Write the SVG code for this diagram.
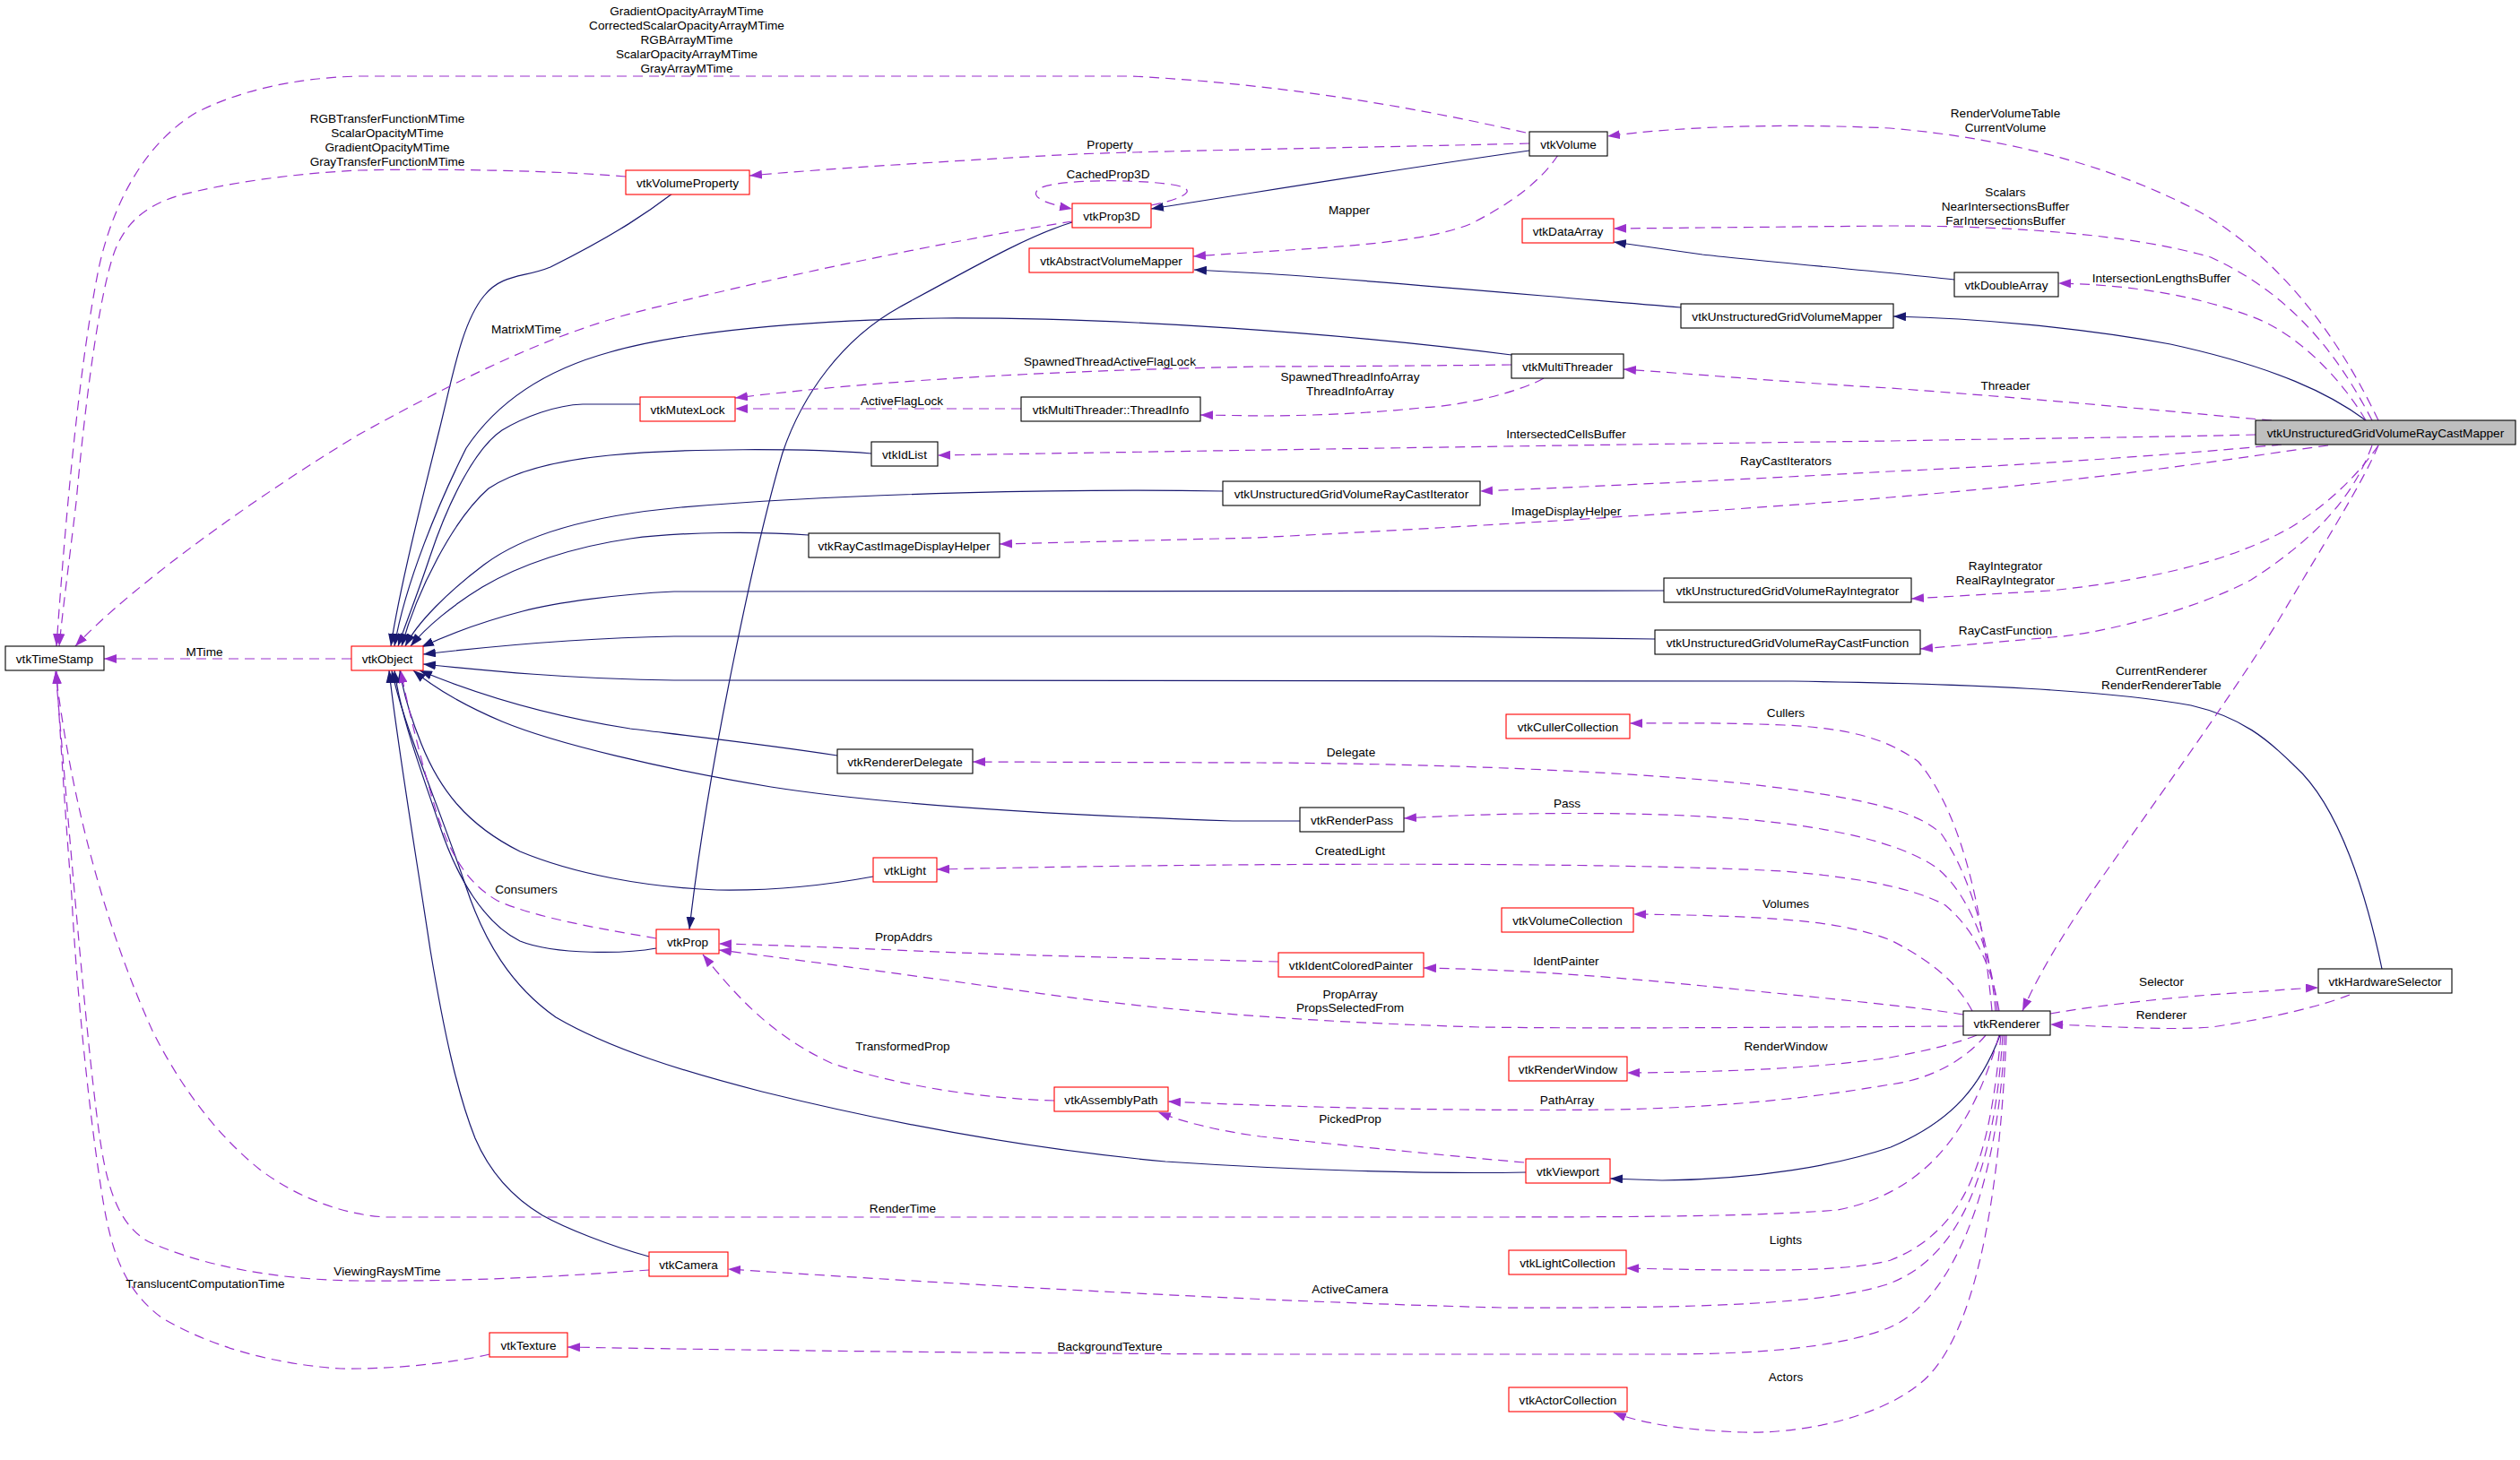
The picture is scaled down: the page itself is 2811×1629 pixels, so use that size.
<svg xmlns="http://www.w3.org/2000/svg" width="2811" height="1629" viewBox="0 0 2811 1629">
<style>
text{font-family:"Liberation Sans",Arial,sans-serif;font-size:13.6px;fill:#000;text-anchor:middle}
.n rect{fill:#fff;stroke:#000;stroke-width:1.1}
.n.r rect{stroke:#ff0000}
.n.g rect{fill:#bfbfbf}
.inh{fill:none;stroke:#191970;stroke-width:1.2;marker-end:url(#an)}
.use{fill:none;stroke:#9a32cd;stroke-width:1.2;stroke-dasharray:11,7;marker-end:url(#ap)}
</style>
<defs>
<marker id="an" viewBox="0 0 14 10" refX="14" refY="5" markerWidth="14" markerHeight="10" markerUnits="userSpaceOnUse" orient="auto"><path d="M0,0 L14,5 L0,10 z" fill="#191970"/></marker>
<marker id="ap" viewBox="0 0 14 10" refX="14" refY="5" markerWidth="14" markerHeight="10" markerUnits="userSpaceOnUse" orient="auto"><path d="M0,0 L14,5 L0,10 z" fill="#9a32cd"/></marker>
</defs>
<rect x="0" y="0" width="2811" height="1629" fill="#fff"/>
<g id="connectors">
<!-- inheritance -->
<path class="inh" d="M1706,168 C1550,190 1400,215 1284,233"/>
<path class="inh" d="M1196,248 C1150,262 1100,290 1003,343 C940,378 895,440 873,505 C845,600 790,850 769,1037"/>
<path class="inh" d="M750,216 C725,235 690,260 614,298 C585,310 560,305 540,330 C515,360 505,420 490,480 C470,560 445,660 436,721"/>
<path class="inh" d="M1686,396 C1500,372 1250,354 1050,355 C900,357 760,370 680,393 C600,415 550,455 520,500 C490,560 452,650 440,721"/>
<path class="inh" d="M714,451 L650,451 C620,452 585,465 560,480 C530,500 500,560 480,620 C465,665 451,700 444,721"/>
<path class="inh" d="M972,506 C900,500 760,500 680,508 C620,514 575,525 545,545 C505,580 465,660 448,721"/>
<path class="inh" d="M1364,548 C1200,545 950,550 760,566 C650,576 580,600 540,630 C500,660 465,695 452,721"/>
<path class="inh" d="M902,597 C850,593 760,593 703,601 C640,610 580,630 538,655 C505,675 475,700 458,721"/>
<path class="inh" d="M1856,659 L752,660 C690,663 620,672 583,682 C540,693 500,708 470,722"/>
<path class="inh" d="M1846,713 L1594,710 L752,710 C640,712 540,722 472,730"/>
<path class="inh" d="M2657,1081 C2640,1000 2610,900 2560,855 C2530,825 2500,800 2444,787 C2350,770 2200,763 2000,760 L752,759 C640,758 540,748 472,741"/>
<path class="inh" d="M934,843 C850,830 760,820 703,813 C620,800 540,778 468,748"/>
<path class="inh" d="M1450,916 L1375,916 C1200,910 1000,900 860,878 C740,858 620,830 560,805 C520,788 485,768 461,748"/>
<path class="inh" d="M974,978 C920,988 860,994 800,993 C720,990 640,975 580,950 C520,920 490,880 470,830 C458,800 450,775 446,748"/>
<path class="inh" d="M732,1058 C700,1064 620,1066 580,1050 C540,1030 510,980 490,920 C470,860 447,800 440,748"/>
<path class="inh" d="M724,1402 C680,1390 630,1370 605,1356 C570,1335 545,1305 530,1270 C510,1220 495,1150 480,1060 C465,960 443,830 434,748"/>
<path class="inh" d="M1702,1308 C1600,1310 1450,1306 1300,1296 C1150,1282 1000,1255 850,1218 C760,1195 680,1170 620,1135 C570,1100 540,1050 520,990 C490,900 450,810 437,748"/>
<path class="inh" d="M2639,469 C2600,440 2540,410 2421,384 C2320,365 2200,355 2112,353"/>
<path class="inh" d="M1875,343 C1750,333 1500,310 1406,305 L1332,301"/>
<path class="inh" d="M2180,312 C2120,305 1950,290 1899,284 L1800,270"/>
<path class="inh" d="M2231,1155 C2210,1210 2180,1250 2109,1280 C2050,1300 1960,1316 1854,1317 L1796,1315"/>
<!-- usage -->
<path class="use" d="M1702,148 C1600,125 1450,95 1263,85 L400,85 C330,87 270,100 220,125 C160,160 125,230 110,300 C90,400 75,550 63,721"/>
<path class="use" d="M698,197 C620,190 480,188 400,190 C320,194 250,205 200,218 C160,230 140,250 128,280 C110,330 95,450 85,560 C78,620 70,680 66,721"/>
<path class="use" d="M1196,247 C1100,262 900,300 703,350 C600,378 500,430 400,485 C300,545 150,650 84,721"/>
<path class="use" d="M392,735 L116,735"/>
<path class="use" d="M2230,1155 C2200,1260 2150,1330 2050,1350 C1950,1358 1800,1358 1600,1358 L430,1358 C380,1355 330,1335 290,1305 C240,1265 200,1210 170,1150 C120,1040 80,900 62,749"/>
<path class="use" d="M724,1417 C650,1422 550,1430 400,1429 C300,1428 220,1410 165,1385 C130,1365 118,1320 110,1260 C95,1150 75,900 62,749"/>
<path class="use" d="M546,1511 C500,1522 430,1528 380,1527 C300,1522 230,1500 180,1470 C140,1440 125,1400 115,1340 C100,1250 85,1100 80,1000 C72,900 66,800 63,749"/>
<path class="use" d="M1706,160 C1600,163 1300,168 1200,172 C1050,180 900,190 836,196"/>
<path class="use" d="M1738,173 C1720,200 1690,225 1640,250 C1590,270 1500,275 1406,281 L1331,286"/>
<path class="use" d="M1284,229 C1320,222 1345,210 1300,205 C1260,200 1180,200 1160,210 C1145,220 1170,228 1196,233"/>
<path class="use" d="M2653,469 C2620,400 2560,300 2460,240 C2370,190 2250,155 2108,143 C2000,138 1880,140 1793,152"/>
<path class="use" d="M2646,469 C2610,400 2560,330 2466,287 C2380,262 2250,252 2108,252 L1800,255"/>
<path class="use" d="M2639,469 C2610,420 2560,370 2511,353 C2450,330 2380,318 2296,316"/>
<path class="use" d="M2534,469 C2450,462 2300,447 2108,433 C2000,427 1900,418 1811,412"/>
<path class="use" d="M2516,485 C2400,488 2200,490 2108,492 C1800,496 1400,502 1046,508"/>
<path class="use" d="M2545,496 C2400,510 2200,522 2108,526 C2000,532 1800,542 1651,548"/>
<path class="use" d="M2597,497 C2500,510 2350,535 2108,555 C1900,572 1600,590 1400,600 L1115,607"/>
<path class="use" d="M2653,497 C2630,530 2600,560 2556,588 C2500,620 2420,645 2287,659 L2132,668"/>
<path class="use" d="M2646,497 C2630,540 2600,590 2511,647 C2450,680 2350,705 2300,710 L2142,724"/>
<path class="use" d="M2653,497 C2635,540 2590,610 2540,695 C2480,790 2400,900 2330,1000 C2300,1045 2275,1085 2256,1128"/>
<path class="use" d="M1686,407 C1600,408 1450,409 1406,409 C1200,413 1000,422 820,444"/>
<path class="use" d="M1722,422 C1700,435 1640,452 1585,455 C1520,462 1450,464 1406,464 L1339,463"/>
<path class="use" d="M1139,456 L820,456"/>
<path class="use" d="M2222,1128 C2212,1020 2190,910 2140,850 C2100,820 2050,812 1990,809 C1920,806 1860,807 1818,807"/>
<path class="use" d="M2226,1128 C2220,1060 2200,980 2166,931 C2140,905 2080,890 1944,874 C1800,860 1600,852 1406,851 L1085,850"/>
<path class="use" d="M2228,1128 C2222,1070 2200,1000 2160,968 C2120,940 2040,922 1944,914 C1850,906 1700,905 1566,913"/>
<path class="use" d="M2230,1128 C2222,1080 2205,1040 2170,1010 C2130,988 2060,978 1989,972 C1800,962 1400,962 1045,970"/>
<path class="use" d="M2200,1128 C2185,1100 2160,1075 2109,1049 C2060,1030 2000,1022 1822,1020"/>
<path class="use" d="M2190,1132 C2150,1125 2050,1115 1900,1100 C1800,1090 1700,1082 1588,1080"/>
<path class="use" d="M2190,1145 C2000,1146 1800,1148 1650,1146 C1450,1140 1300,1128 1150,1107 C1050,1093 900,1072 802,1060"/>
<path class="use" d="M1426,1073 C1300,1070 1100,1065 1000,1060 C900,1056 850,1054 802,1053"/>
<path class="use" d="M2205,1155 C2180,1165 2150,1172 2108,1180 C2040,1190 1950,1196 1815,1197"/>
<path class="use" d="M2215,1155 C2190,1185 2150,1205 2108,1210 C2050,1220 1950,1235 1800,1238 C1650,1240 1450,1236 1303,1229"/>
<path class="use" d="M1700,1297 C1620,1290 1500,1278 1406,1268 C1360,1262 1320,1252 1292,1241"/>
<path class="use" d="M1176,1228 C1100,1226 1000,1212 927,1186 C860,1155 820,1110 784,1065"/>
<path class="use" d="M2232,1155 C2220,1280 2200,1370 2109,1406 C2060,1420 1950,1418 1814,1415"/>
<path class="use" d="M2234,1155 C2225,1300 2190,1400 2108,1432 C2040,1455 1900,1460 1675,1459 C1400,1452 1100,1435 812,1416"/>
<path class="use" d="M2236,1155 C2230,1320 2180,1450 2108,1481 C2050,1505 1950,1511 1854,1511 L1406,1511 C1100,1510 800,1506 633,1503"/>
<path class="use" d="M2238,1155 C2230,1350 2200,1500 2140,1545 C2090,1585 2000,1600 1944,1598 C1880,1596 1830,1588 1800,1576"/>
<path class="use" d="M2287,1131 C2350,1120 2450,1110 2511,1107 C2540,1105 2560,1103 2586,1102"/>
<path class="use" d="M2621,1110 C2590,1122 2540,1135 2467,1146 C2420,1150 2350,1145 2287,1143"/>
<path class="use" d="M732,1047 C680,1038 600,1025 555,1005 C520,985 500,950 485,900 C470,850 455,790 447,748"/>
<!-- labels -->
<text x="766" y="17">GradientOpacityArrayMTime</text>
<text x="766" y="33">CorrectedScalarOpacityArrayMTime</text>
<text x="766" y="49">RGBArrayMTime</text>
<text x="766" y="65">ScalarOpacityArrayMTime</text>
<text x="766" y="81">GrayArrayMTime</text>
<text x="432" y="137">RGBTransferFunctionMTime</text>
<text x="432" y="153">ScalarOpacityMTime</text>
<text x="432" y="169">GradientOpacityMTime</text>
<text x="432" y="185">GrayTransferFunctionMTime</text>
<text x="1238" y="166">Property</text>
<text x="1236" y="199">CachedProp3D</text>
<text x="1505" y="239">Mapper</text>
<text x="587" y="372">MatrixMTime</text>
<text x="2237" y="131">RenderVolumeTable</text>
<text x="2237" y="147">CurrentVolume</text>
<text x="2237" y="219">Scalars</text>
<text x="2237" y="235">NearIntersectionsBuffer</text>
<text x="2237" y="251">FarIntersectionsBuffer</text>
<text x="2411" y="315">IntersectionLengthsBuffer</text>
<text x="1238" y="408">SpawnedThreadActiveFlagLock</text>
<text x="1506" y="425">SpawnedThreadInfoArray</text>
<text x="1506" y="441">ThreadInfoArray</text>
<text x="1006" y="452">ActiveFlagLock</text>
<text x="2237" y="435">Threader</text>
<text x="1747" y="489">IntersectedCellsBuffer</text>
<text x="1992" y="519">RayCastIterators</text>
<text x="1747" y="575">ImageDisplayHelper</text>
<text x="2237" y="636">RayIntegrator</text>
<text x="2237" y="652">RealRayIntegrator</text>
<text x="2237" y="708">RayCastFunction</text>
<text x="2411" y="753">CurrentRenderer</text>
<text x="2411" y="769">RenderRendererTable</text>
<text x="228" y="732">MTime</text>
<text x="1992" y="800">Cullers</text>
<text x="1507" y="844">Delegate</text>
<text x="1748" y="901">Pass</text>
<text x="1506" y="954">CreatedLight</text>
<text x="1992" y="1013">Volumes</text>
<text x="587" y="997">Consumers</text>
<text x="1008" y="1050">PropAddrs</text>
<text x="1747" y="1077">IdentPainter</text>
<text x="2411" y="1100">Selector</text>
<text x="1506" y="1114">PropArray</text>
<text x="1506" y="1129">PropsSelectedFrom</text>
<text x="2411" y="1137">Renderer</text>
<text x="1007" y="1172">TransformedProp</text>
<text x="1992" y="1172">RenderWindow</text>
<text x="1748" y="1232">PathArray</text>
<text x="1506" y="1253">PickedProp</text>
<text x="1007" y="1353">RenderTime</text>
<text x="1992" y="1388">Lights</text>
<text x="432" y="1423">ViewingRaysMTime</text>
<text x="229" y="1437">TranslucentComputationTime</text>
<text x="1506" y="1443">ActiveCamera</text>
<text x="1238" y="1507">BackgroundTexture</text>
<text x="1992" y="1541">Actors</text>
</g>
<g id="vtkTimeStamp" class="n"><rect x="6" y="721" width="110" height="27"/><text x="61" y="739.5">vtkTimeStamp</text></g>
<g id="vtkObject" class="n r"><rect x="392" y="721" width="80" height="27"/><text x="432" y="739.5">vtkObject</text></g>
<g id="vtkVolumeProperty" class="n r"><rect x="698" y="190" width="138" height="27"/><text x="767" y="208.5">vtkVolumeProperty</text></g>
<g id="vtkVolume" class="n"><rect x="1706" y="147" width="87" height="27"/><text x="1749.5" y="165.5">vtkVolume</text></g>
<g id="vtkProp3D" class="n r"><rect x="1196" y="227" width="88" height="27"/><text x="1240" y="245.5">vtkProp3D</text></g>
<g id="vtkAbstractVolumeMapper" class="n r"><rect x="1148" y="277" width="183" height="27"/><text x="1239.5" y="295.5">vtkAbstractVolumeMapper</text></g>
<g id="vtkDataArray" class="n r"><rect x="1698" y="244" width="102" height="27"/><text x="1749" y="262.5">vtkDataArray</text></g>
<g id="vtkDoubleArray" class="n"><rect x="2180" y="304" width="116" height="27"/><text x="2238" y="322.5">vtkDoubleArray</text></g>
<g id="vtkUnstructuredGridVolumeMapper" class="n"><rect x="1875" y="339" width="237" height="27"/><text x="1993.5" y="357.5">vtkUnstructuredGridVolumeMapper</text></g>
<g id="vtkMultiThreader" class="n"><rect x="1686" y="395" width="125" height="27"/><text x="1748.5" y="413.5">vtkMultiThreader</text></g>
<g id="vtkMutexLock" class="n r"><rect x="714" y="443" width="106" height="27"/><text x="767" y="461.5">vtkMutexLock</text></g>
<g id="vtkMultiThreader_ThreadInfo" class="n"><rect x="1139" y="443" width="200" height="27"/><text x="1239" y="461.5">vtkMultiThreader::ThreadInfo</text></g>
<g id="vtkIdList" class="n"><rect x="972" y="493" width="74" height="27"/><text x="1009" y="511.5">vtkIdList</text></g>
<g id="vtkUnstructuredGridVolumeRayCastMapper" class="n g"><rect x="2516" y="469" width="290" height="27"/><text x="2661" y="487.5">vtkUnstructuredGridVolumeRayCastMapper</text></g>
<g id="vtkUnstructuredGridVolumeRayCastIterator" class="n"><rect x="1364" y="537" width="287" height="27"/><text x="1507.5" y="555.5">vtkUnstructuredGridVolumeRayCastIterator</text></g>
<g id="vtkRayCastImageDisplayHelper" class="n"><rect x="902" y="595" width="213" height="27"/><text x="1008.5" y="613.5">vtkRayCastImageDisplayHelper</text></g>
<g id="vtkUnstructuredGridVolumeRayIntegrator" class="n"><rect x="1856" y="645" width="276" height="27"/><text x="1994" y="663.5">vtkUnstructuredGridVolumeRayIntegrator</text></g>
<g id="vtkUnstructuredGridVolumeRayCastFunction" class="n"><rect x="1846" y="703" width="296" height="27"/><text x="1994" y="721.5">vtkUnstructuredGridVolumeRayCastFunction</text></g>
<g id="vtkCullerCollection" class="n r"><rect x="1680" y="797" width="138" height="27"/><text x="1749" y="815.5">vtkCullerCollection</text></g>
<g id="vtkRendererDelegate" class="n"><rect x="934" y="836" width="151" height="27"/><text x="1009.5" y="854.5">vtkRendererDelegate</text></g>
<g id="vtkRenderPass" class="n"><rect x="1450" y="901" width="116" height="27"/><text x="1508" y="919.5">vtkRenderPass</text></g>
<g id="vtkLight" class="n r"><rect x="974" y="957" width="71" height="27"/><text x="1009.5" y="975.5">vtkLight</text></g>
<g id="vtkVolumeCollection" class="n r"><rect x="1675" y="1013" width="147" height="27"/><text x="1748.5" y="1031.5">vtkVolumeCollection</text></g>
<g id="vtkProp" class="n r"><rect x="732" y="1037" width="70" height="27"/><text x="767" y="1055.5">vtkProp</text></g>
<g id="vtkIdentColoredPainter" class="n r"><rect x="1426" y="1063" width="162" height="27"/><text x="1507" y="1081.5">vtkIdentColoredPainter</text></g>
<g id="vtkHardwareSelector" class="n"><rect x="2586" y="1081" width="149" height="27"/><text x="2660.5" y="1099.5">vtkHardwareSelector</text></g>
<g id="vtkRenderer" class="n"><rect x="2190" y="1128" width="97" height="27"/><text x="2238.5" y="1146.5">vtkRenderer</text></g>
<g id="vtkRenderWindow" class="n r"><rect x="1683" y="1179" width="132" height="27"/><text x="1749" y="1197.5">vtkRenderWindow</text></g>
<g id="vtkAssemblyPath" class="n r"><rect x="1176" y="1213" width="127" height="27"/><text x="1239.5" y="1231.5">vtkAssemblyPath</text></g>
<g id="vtkViewport" class="n r"><rect x="1702" y="1293" width="94" height="27"/><text x="1749" y="1311.5">vtkViewport</text></g>
<g id="vtkLightCollection" class="n r"><rect x="1683" y="1395" width="131" height="27"/><text x="1748.5" y="1413.5">vtkLightCollection</text></g>
<g id="vtkCamera" class="n r"><rect x="724" y="1397" width="88" height="27"/><text x="768" y="1415.5">vtkCamera</text></g>
<g id="vtkTexture" class="n r"><rect x="546" y="1487" width="87" height="27"/><text x="589.5" y="1505.5">vtkTexture</text></g>
<g id="vtkActorCollection" class="n r"><rect x="1683" y="1548" width="132" height="27"/><text x="1749" y="1566.5">vtkActorCollection</text></g>
</svg>
